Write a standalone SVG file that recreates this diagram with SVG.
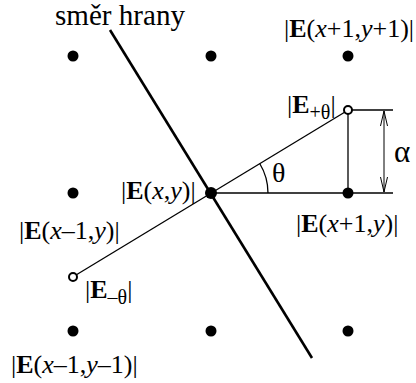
<svg xmlns="http://www.w3.org/2000/svg" width="416" height="383" viewBox="0 0 416 383">
<style>
text{font-family:'Liberation Serif','Times New Roman','DejaVu Serif',Times,serif;font-size:26px;fill:#000}
.b{font-weight:bold}
.i{font-style:italic}
.sub{font-size:20px}
.title{font-size:29px}
.gr{font-size:28px}
.gr2{font-size:31px}
.dot{fill:#000}
.open{fill:#fff;stroke:#000;stroke-width:2}
.thin{stroke:#000;stroke-width:1.3;fill:none}
.dim{stroke:#000;stroke-width:1;fill:none}
.edge{stroke:#000;stroke-width:2.6;fill:none}
</style>
<defs>
<marker id="ah" markerWidth="16" markerHeight="10" refX="15" refY="5" orient="auto-start-reverse" markerUnits="userSpaceOnUse">
<path d="M0,1.5 L15,5 L0,8.5" fill="none" stroke="#000" stroke-width="1"/>
</marker>
</defs>
<rect width="416" height="383" fill="#fff"/>
<g id="connectors">
<line class="edge" x1="110" y1="30" x2="312" y2="358"/>
<line class="thin" x1="76" y1="275" x2="345" y2="112"/>
<line class="thin" x1="211" y1="193" x2="393" y2="193"/>
<line class="thin" x1="348" y1="114" x2="348" y2="193"/>
<line class="thin" x1="352" y1="110" x2="393" y2="110"/>
<line class="dim" x1="384" y1="111" x2="384" y2="192" marker-start="url(#ah)" marker-end="url(#ah)"/>
<path class="thin" d="M268,193 A57,57 0 0 0 259.7,163.5"/>
</g>
<g id="edge-label"><text class="title" x="55" y="25" textLength="130" lengthAdjust="spacingAndGlyphs">směr hrany</text></g>
<g id="n-x-1-y1"><circle class="dot" cx="73" cy="56" r="5.5"/></g>
<g id="n-x-y1"><circle class="dot" cx="211" cy="56" r="5.5"/></g>
<g id="n-x1-y1"><circle class="dot" cx="348" cy="56" r="5.5"/>
<text x="284" y="37">|<tspan class="b">E</tspan>(<tspan class="i">x</tspan>+1,<tspan class="i">y</tspan>+1)|</text></g>
<g id="n-x-1-y"><circle class="dot" cx="73" cy="193" r="5.5"/>
<text x="19" y="239">|<tspan class="b">E</tspan>(<tspan class="i">x</tspan>–1,<tspan class="i">y</tspan>)|</text></g>
<g id="n-x-y"><circle class="dot" cx="211" cy="193" r="6"/>
<text x="121" y="199">|<tspan class="b">E</tspan>(<tspan class="i">x</tspan>,<tspan class="i">y</tspan>)|</text></g>
<g id="n-x1-y"><circle class="dot" cx="348" cy="193" r="5.5"/>
<text x="296" y="232">|<tspan class="b">E</tspan>(<tspan class="i">x</tspan>+1,<tspan class="i">y</tspan>)|</text></g>
<g id="n-x-1-y-1"><circle class="dot" cx="73" cy="331" r="5.5"/>
<text x="11" y="373">|<tspan class="b">E</tspan>(<tspan class="i">x</tspan>–1,<tspan class="i">y</tspan>–1)|</text></g>
<g id="n-x-y-1"><circle class="dot" cx="211" cy="331" r="5.5"/></g>
<g id="n-x1-y-1"><circle class="dot" cx="348" cy="331" r="5.5"/></g>
<g id="n-eplus"><circle class="open" cx="348" cy="110" r="4"/>
<text x="287" y="113">|<tspan class="b">E</tspan><tspan class="sub" dy="6">+θ</tspan><tspan dy="-6">|</tspan></text></g>
<g id="n-eminus"><circle class="open" cx="73" cy="277" r="4"/>
<text x="85" y="298">|<tspan class="b">E</tspan><tspan class="sub" dy="6">–θ</tspan><tspan dy="-6">|</tspan></text></g>
<g id="labels">
<text class="gr" x="272" y="182">θ</text>
<text class="gr2" x="394" y="162">α</text>
</g>
</svg>
